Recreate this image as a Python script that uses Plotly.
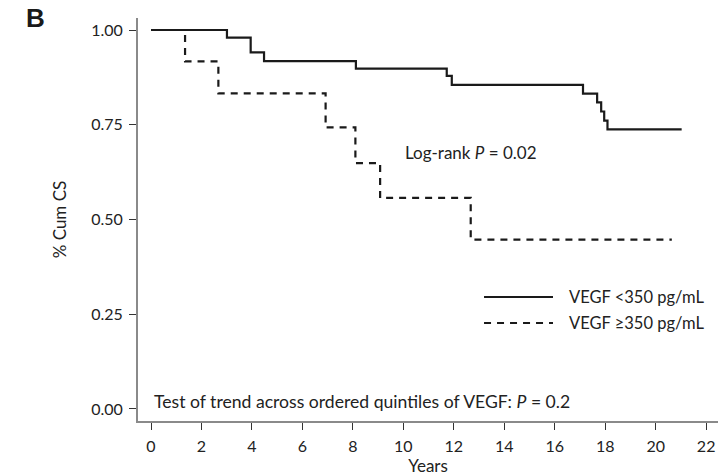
import plotly.graph_objects as go

# Kaplan-Meier step data (years, cumulative survival)
low_years = [0, 3.01, 3.95, 4.48, 8.12, 11.72, 11.92, 17.12, 17.68, 17.84, 17.96, 18.09, 21.03]
low_surv = [1.0, 0.980, 0.941, 0.918, 0.898, 0.879, 0.855, 0.832, 0.809, 0.785, 0.761, 0.738, 0.738]

high_years = [0, 1.35, 2.67, 6.92, 8.10, 9.08, 12.67, 20.64]
high_surv = [1.0, 0.917, 0.833, 0.743, 0.649, 0.557, 0.447, 0.447]

series_names = ["VEGF <350 pg/mL", "VEGF \u2265350 pg/mL"]
x_ticks = list(range(0, 23, 2))
y_ticks = [0.0, 0.25, 0.5, 0.75, 1.0]
y_tick_labels = ["0.00", "0.25", "0.50", "0.75", "1.00"]

FONT = "Lato"
TXT = "#222222"
AX = "#8a8a8a"
LINE = "#1a1a1a"

fig = go.Figure()
fig.add_trace(go.Scatter(x=low_years, y=low_surv, mode="lines", line_shape="hv",
                         line=dict(color=LINE, width=2.2), name=series_names[0], showlegend=False))
fig.add_trace(go.Scatter(x=high_years, y=high_surv, mode="lines", line_shape="hv",
                         line=dict(color=LINE, width=2.2, dash="7px,6px"), name=series_names[1], showlegend=False))

# legend drawn manually (long sample lines as in the original)
leg = [(0.3077, "solid", series_names[0]), (0.2432, "7px,6px", series_names[1])]
for yy, dash, name in leg:
    fig.add_shape(type="line", xref="paper", yref="paper", x0=0.5966, x1=0.7155, y0=yy, y1=yy,
                  line=dict(color=LINE, width=2.2, dash=dash))
    fig.add_annotation(xref="paper", yref="paper", x=0.7397, y=yy, text=name, showarrow=False,
                       xanchor="left", yanchor="middle", font=dict(family=FONT, size=16.5, color=TXT))

fig.add_annotation(x=10, y=0.678, xref="x", yref="y", text="Log-rank <i>P</i> = 0.02",
                   showarrow=False, xanchor="left", yanchor="middle",
                   font=dict(family=FONT, size=17, color=TXT))
fig.add_annotation(x=0.05, y=0.021, xref="x", yref="y",
                   text="Test of trend across ordered quintiles of VEGF: <i>P</i> = 0.2",
                   showarrow=False, xanchor="left", yanchor="middle",
                   font=dict(family=FONT, size=17.6, color=TXT))
fig.add_annotation(xref="paper", yref="paper", x=-0.176, y=1.0, text="<b>B</b>", showarrow=False,
                   xanchor="center", yanchor="middle",
                   font=dict(family="Liberation Sans", size=26, color="#1a1a1a"))

fig.update_layout(
    width=718, height=476,
    margin=dict(l=138, r=0, t=18, b=55),
    paper_bgcolor="white", plot_bgcolor="white",
    font=dict(family=FONT, size=16, color=TXT),
    xaxis=dict(range=[-0.515, 22.47], tickvals=x_ticks, ticks="outside", ticklen=7, tickwidth=1.2,
               tickcolor="#333333", showline=True, linecolor=AX, linewidth=2, showgrid=False,
               zeroline=False, ticklabelstandoff=3,
               title=dict(text="Years", standoff=3, font=dict(size=17)),
               tickfont=dict(size=16)),
    yaxis=dict(range=[-0.0317, 1.0317], tickvals=y_ticks, ticktext=y_tick_labels, ticks="outside",
               ticklen=7, tickwidth=1.2, tickcolor="#333333", showline=True, linecolor=AX, linewidth=2,
               showgrid=False, zeroline=False, ticklabelstandoff=3,
               title=dict(text="% Cum CS", standoff=20, font=dict(size=17)), tickfont=dict(size=16)),
)

fig.write_html("out.html", config={"displayModeBar": False},
               post_script="document.body.style.margin='0';document.body.style.overflow='hidden';")
